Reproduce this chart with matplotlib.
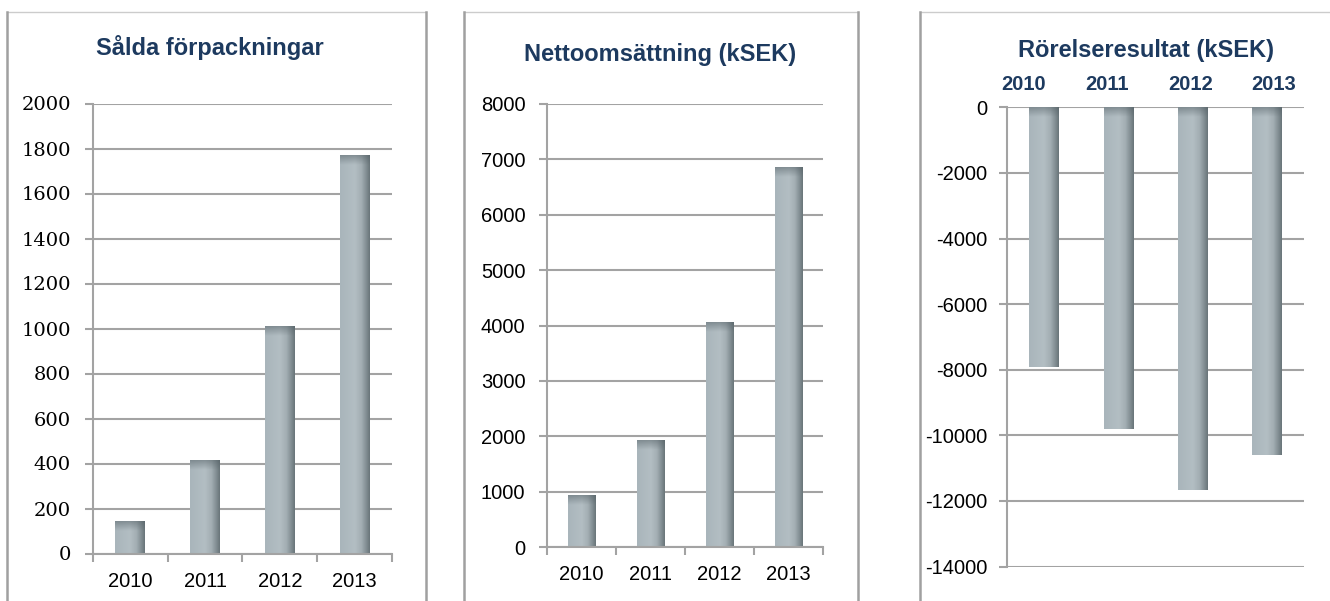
import numpy as np
import matplotlib
matplotlib.use("Agg")
import matplotlib.pyplot as plt
from matplotlib.colors import LinearSegmentedColormap
from matplotlib.lines import Line2D

years = ["2010", "2011", "2012", "2013"]
salda = [145, 414, 1011, 1773]
netto = [950, 1930, 4060, 6850]
rorelse = [-7920, -9790, -11670, -10610]

titles = ["Sålda förpackningar", "Nettoomsättning (kSEK)", "Rörelseresultat (kSEK)"]

W, H = 1330, 601
navy = "#1d3a5f"
gray = "#a3a3a3"
sans = ["Liberation Sans", "DejaVu Sans"]
serif = ["DejaVu Serif"]

plt.rcParams["axes.unicode_minus"] = False

bar_cmap = LinearSegmentedColormap.from_list(
    "bar", [(0, "#a9b5bb"), (0.5, "#b3bec3"), (0.72, "#a3aeb3"),
            (0.9, "#7f8b90"), (1, "#697579")])
grad = np.linspace(0, 1, 64).reshape(1, -1)
shade = np.zeros((16, 1, 4))
shade[:, 0, 0:3] = [0.33, 0.38, 0.40]
shade[:, 0, 3] = np.linspace(0.5, 0, 16)

fig = plt.figure(figsize=(W / 100, H / 100), dpi=100)


def frame(x0, x1, top=11.5):
    fig.add_artist(Line2D([x0 / W, x1 / W], [1 - top / H, 1 - top / H],
                          transform=fig.transFigure, color="#cccccc", lw=1))
    for x in (x0, x1):
        fig.add_artist(Line2D([x / W, x / W], [0, 1 - top / H],
                              transform=fig.transFigure, color="#a0a0a0", lw=1.8))


frame(7, 426)
frame(464, 858)
frame(920, 1335)


def draw_bars(ax, values, ylim):
    ax.set_xlim(-0.5, 3.5)
    ax.set_ylim(*ylim)
    px = ax.get_position().height * H
    dy = (ylim[1] - ylim[0]) / px
    for i, v in enumerate(values):
        lo, hi = min(0, v), max(0, v)
        patch = ax.bar(i, v, width=0.4, color="none", edgecolor="none")[0]
        img = ax.imshow(grad, cmap=bar_cmap, extent=[i - 0.2, i + 0.2, lo, hi],
                        aspect="auto", interpolation="bicubic", zorder=2)
        img.set_clip_path(patch)
        band = 10 * dy
        img2 = ax.imshow(shade, extent=[i - 0.2, i + 0.2, hi - band, hi],
                         aspect="auto", interpolation="bilinear", zorder=3)
        img2.set_clip_path(patch)
    ax.set_xlim(-0.5, 3.5)
    ax.set_ylim(*ylim)


def style(ax, ypad, yfont, ysize):
    ax.yaxis.grid(True, color=gray, lw=1.5)
    ax.set_axisbelow(True)
    for s in ax.spines.values():
        s.set_visible(False)
    ax.spines["left"].set_visible(True)
    ax.spines["left"].set_color(gray)
    ax.spines["left"].set_linewidth(1.5)
    ax.tick_params(axis="y", direction="out", length=6, width=1.5, color=gray,
                   pad=ypad, labelsize=ysize, labelfontfamily=yfont)


def bottom_axis(ax, pad):
    ax.spines["bottom"].set_visible(True)
    ax.spines["bottom"].set_color(gray)
    ax.spines["bottom"].set_linewidth(1.5)
    ax.set_xticks([-0.5, 0.5, 1.5, 2.5, 3.5])
    ax.set_xticklabels([])
    ax.set_xticks(range(len(years)), minor=True)
    ax.set_xticklabels(years, minor=True)
    ax.tick_params(axis="x", which="major", direction="out", length=6,
                   width=1.5, color=gray)
    ax.tick_params(axis="x", which="minor", length=0, pad=pad,
                   labelsize=14.5, labelfontfamily=sans)


# panel 1
ax1 = fig.add_axes([93 / W, 1 - 553.5 / H, 299 / W, 450 / H])
draw_bars(ax1, salda, (0, 2000))
ax1.set_yticks(range(0, 2001, 200))
style(ax1, 10, serif, 14)
bottom_axis(ax1, 13)

# panel 2
ax2 = fig.add_axes([547 / W, 1 - 547.4 / H, 276 / W, 443.8 / H])
draw_bars(ax2, netto, (0, 8000))
ax2.set_yticks(range(0, 8001, 1000))
style(ax2, 9.5, sans, 14.5)
bottom_axis(ax2, 13)

# panel 3
ax3 = fig.add_axes([1007 / W, 1 - 566.6 / H, 297 / W, 459.2 / H])
draw_bars(ax3, rorelse, (-14000, 0))
ax3.set_yticks(range(-14000, 1, 2000))
style(ax3, 8, sans, 14.5)
ax3.set_xticks([])
for i, y in enumerate(years):
    ax3.text(0.057 + i * 0.28, 1.038, y, transform=ax3.transAxes,
             ha="center", va="baseline", family=sans, fontsize=14.5,
             fontweight="bold", color=navy)

# titles
for x, yb, t in [(210, 55, titles[0]), (660.5, 60.5, titles[1]),
                 (1146.5, 57.5, titles[2])]:
    fig.text(x / W, 1 - yb / H, t, ha="center", va="baseline", family=sans,
             fontsize=17, fontweight="bold", color=navy)

fig.savefig("out.png", dpi=100, facecolor="white")
